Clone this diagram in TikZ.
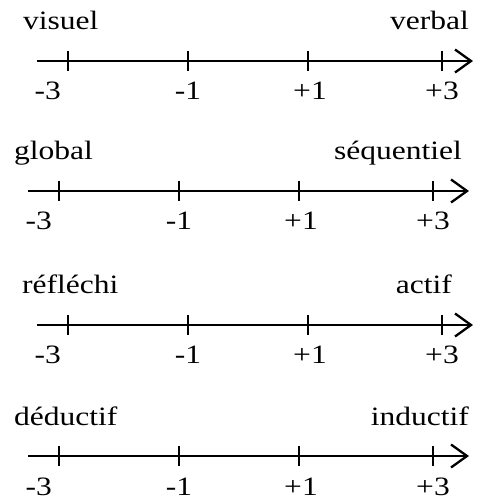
\documentclass[tikz,border=0pt]{standalone}
\usepackage{fontspec}
\setmainfont{Liberation Serif}[FakeStretch=1.19]
\usetikzlibrary{arrows.meta}

\begin{document}
\begin{tikzpicture}[x=1pt,y=1pt,line width=2.3pt,>={Straight Barb[length=16pt,width=23pt,line width=2.3pt]},
    etiq/.style={inner sep=0pt,text depth=0pt,font=\fontsize{26.5}{32}\selectfont}]
  \useasboundingbox (0,0) rectangle (480,499);

  % axe, decalage, pole gauche, pole droit, positions des poles
  \foreach \n/\y/\dx/\gauche/\droite/\lx/\rx in {%
      1/438/0/visuel/verbal/22/470,
      2/308/-9/global/s\'equentiel/13/463,
      3/174/0/r\'efl\'echi/actif/21/453,
      4/43/-9/d\'eductif/inductif/13/470}
  {
    \coordinate (a\n) at (37+\dx,\y);
    \coordinate (b\n) at (473+\dx-5*\dx/9,\y);
    \draw[->] (a\n) -- (b\n);

    \node[etiq,anchor=base west] (g\n) at (\lx,\y+31) {\gauche};
    \node[etiq,anchor=base east] (d\n) at (\rx,\y+31) {\droite};

    \foreach \t/\x in {m3/68,m1/188,p1/308,p3/442}
      \draw[line width=1.5pt] (\x+\dx,\y+10) -- (\x+\dx,\y-10) coordinate (t\n\t);

    \node[etiq,anchor=base east] (v\n m3) at (62+\dx,\y-39) {-3};
    \node[etiq,anchor=base] (v\n m1) at (188+\dx,\y-39) {-1};
    \node[etiq,anchor=base] (v\n p1) at (310+\dx,\y-39) {+1};
    \node[etiq,anchor=base] (v\n p3) at (442+\dx,\y-39) {+3};
  }
\end{tikzpicture}
\end{document}
